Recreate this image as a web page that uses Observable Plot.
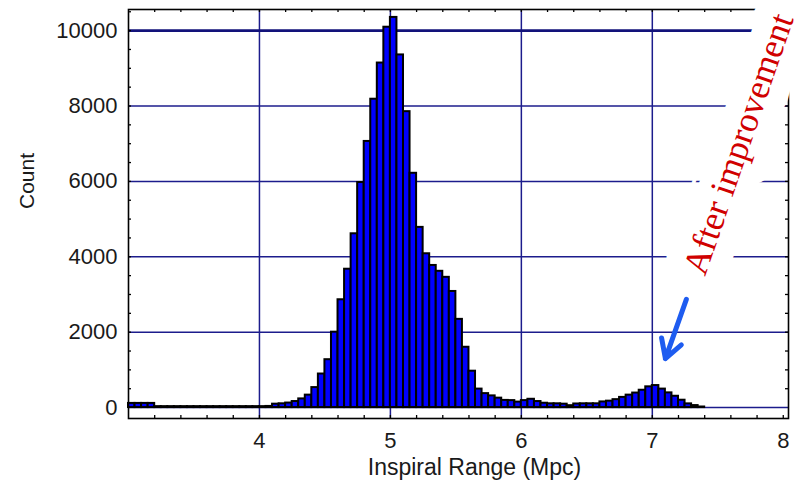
<!DOCTYPE html>
<html><head><meta charset="utf-8">
<script src="https://cdn.jsdelivr.net/npm/d3@7"></script>
<script src="https://cdn.jsdelivr.net/npm/@observablehq/plot@0.6"></script>
<style>html,body{margin:0;padding:0;background:#fff}</style>
</head><body><div id="chart"></div>
<script>
// Histogram bins (left edges, width 0.05 Mpc) and counts
const binWidth = 0.05;
const binStarts = [3.00,3.05,3.10,3.15,3.20,3.25,3.30,3.35,3.40,3.45,3.50,3.55,3.60,3.65,3.70,3.75,3.80,3.85,3.90,3.95,
  4.00,4.05,4.10,4.15,4.20,4.25,4.30,4.35,4.40,4.45,4.50,4.55,4.60,4.65,4.70,4.75,4.80,4.85,4.90,4.95,
  5.00,5.05,5.10,5.15,5.20,5.25,5.30,5.35,5.40,5.45,5.50,5.55,5.60,5.65,5.70,5.75,5.80,5.85,5.90,5.95,
  6.00,6.05,6.10,6.15,6.20,6.25,6.30,6.35,6.40,6.45,6.50,6.55,6.60,6.65,6.70,6.75,6.80,6.85,6.90,6.95,
  7.00,7.05,7.10,7.15,7.20,7.25,7.30,7.35];
const counts = [110,110,110,110,25,25,25,25,25,25,25,25,25,25,25,25,25,25,25,25,
  25,30,90,100,120,160,230,330,530,890,1270,2000,2860,3670,4610,5970,7060,8180,9140,10090,
  10350,9355,7850,6215,4780,4080,3770,3615,3455,3080,2340,1600,965,490,370,310,250,190,185,145,
  185,220,160,115,100,100,90,50,95,100,100,100,150,170,210,270,330,385,460,550,
  584,490,390,300,195,98,53,15];

const xTicks = [4,5,6,7,8];
const yTicks = [0,2000,4000,6000,8000,10000];
const xMinorTicks = [3.2,3.4,3.6,3.8,4.0,4.2,4.4,4.6,4.8,5.0,5.2,5.4,5.6,5.8,6.0,6.2,6.4,6.6,6.8,7.0,7.2,7.4,7.6,7.8,8.0];
const yMinorTicks = [500,1000,1500,2000,2500,3000,3500,4000,4500,5000,5500,6000,6500,7000,7500,8000,8500,9000,9500,10000,10500];
const xLabel = "Inspiral Range (Mpc)";
const yLabel = "Count";
const annotation = [{x: 7.66, y: 6990, label: "After improvement"}];
const arrowData = [{x1: 7.26, y1: 2870, x2: 7.10, y2: 1300}];

const xDomain = [3.0, 8.04];
const yDomain = [-290, 10560];

const bins = binStarts.map((x0, i) => ({x1: x0, x2: x0 + binWidth, count: counts[i]}));

const navy = "#1c1c8c";
const tickLenY = 80;     // in count units (~3px)
const tickLenX = 0.023;  // in Mpc units (~3px)

const chart = Plot.plot({
  width: 799, height: 483,
  marginLeft: 128, marginRight: 11, marginTop: 9, marginBottom: 65,
  x: {domain: xDomain, label: null},
  y: {domain: yDomain, label: null},
  style: {fontFamily: "'Liberation Sans', Arial, sans-serif", background: "white"},
  marks: [
    Plot.gridX(xTicks.filter(d => d < 8), {stroke: navy, strokeOpacity: 1, strokeWidth: 1.5}),
    Plot.gridY(yTicks.filter(d => d < 10000), {stroke: navy, strokeOpacity: 1, strokeWidth: 1.5}),
    Plot.gridY([10000], {stroke: "#12127a", strokeOpacity: 1, strokeWidth: 2.6}),
    Plot.rectY(bins, {x1: "x1", x2: "x2", y: "count", fill: "#0000ff", stroke: "black", strokeWidth: 2}),
    Plot.frame({stroke: "black", strokeWidth: 1.6}),
    Plot.ruleX(xMinorTicks, {x: d => d, y1: yDomain[0], y2: yDomain[0] + tickLenY, stroke: "black", strokeWidth: 1.3}),
    Plot.ruleX(xMinorTicks, {x: d => d, y1: yDomain[1], y2: yDomain[1] - tickLenY, stroke: "black", strokeWidth: 1.3}),
    Plot.ruleY(yMinorTicks, {y: d => d, x1: xDomain[0], x2: xDomain[0] + tickLenX, stroke: "black", strokeWidth: 1.3}),
    Plot.ruleY(yMinorTicks, {y: d => d, x1: xDomain[1], x2: xDomain[1] - tickLenX, stroke: "black", strokeWidth: 1.3}),
    Plot.axisX(xTicks, {tickSize: 0, tickPadding: 14, fontSize: 22, fill: "#1a1a1a", label: null, tickFormat: d => String(d)}),
    Plot.axisY(yTicks, {tickSize: 0, tickPadding: 11, fontSize: 22, fill: "#1a1a1a", label: null, tickFormat: d => String(d)}),
    Plot.text([xLabel], {frameAnchor: "bottom", dx: 16, dy: 56, fontSize: 23, fill: "#1a1a1a", text: d => d}),
    Plot.text([yLabel], {frameAnchor: "left", dx: -101, dy: -5, rotate: -90, fontSize: 21, fill: "#1a1a1a", text: d => d}),
    Plot.text(annotation, {x: "x", y: "y", text: "label", rotate: -71, fontSize: 35.5,
      fontFamily: "'Liberation Serif', 'Times New Roman', serif", fill: "#d00000",
      stroke: "white", strokeWidth: 40, strokeLinejoin: "round", paintOrder: "stroke"}),
    Plot.arrow(arrowData, {x1: "x1", y1: "y1", x2: "x2", y2: "y2", stroke: "#1e5cf0", strokeWidth: 5, headLength: 17})
  ]
});
document.getElementById("chart").appendChild(chart);
</script>
</body></html>
